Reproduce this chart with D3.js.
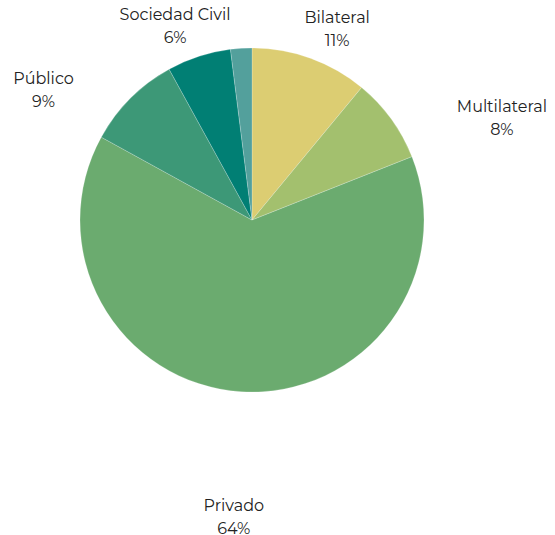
<!DOCTYPE html>
<html>
<head>
<meta charset="utf-8">
<script src="https://cdn.jsdelivr.net/npm/d3@7"></script>
<style>
  html, body { margin: 0; padding: 0; background: #fff; }
  svg { display: block; }
  .lbl { font-family: Montserrat, "DejaVu Sans", sans-serif; font-size: 16px; fill: #222; }
</style>
</head>
<body>
<svg id="chart" width="555" height="535"></svg>
<script>
// slice data, clockwise from 12 o'clock
const categories = ['Bilateral', 'Multilateral', 'Privado', 'Público', 'Sociedad Civil', 'Otro'];
const shares = [11, 8, 64, 9, 6, 2];
const pctLabels = ['11%', '8%', '64%', '9%', '6%', ''];
const colors = ['#dccd72', '#a3c06e', '#6bab6f', '#3d9877', '#017f74', '#53a09c'];

// label nudges from the default outer position (dx, dy)
const labelNudge = [[14, 1], [80, 15], [-5, 81], [-60, 12], [-12, 0], [0, 0]];

const cx = 252, cy = 220, r = 172, labelR = 210;

const svg = d3.select('#chart');
const g = svg.append('g').attr('transform', `translate(${cx},${cy})`);

const pie = d3.pie().sort(null).value(d => d);
const arcs = pie(shares);

const arc = d3.arc().innerRadius(0).outerRadius(r);

g.selectAll('path.slice')
  .data(arcs)
  .enter()
  .append('path')
  .attr('class', 'slice')
  .attr('d', arc)
  .attr('fill', (d, i) => colors[i])
  .attr('stroke', '#ffffff')
  .attr('stroke-opacity', 0.35)
  .attr('stroke-width', 0.6);

// labels
const lbl = g.selectAll('text.lbl')
  .data(arcs.filter((d, i) => pctLabels[i] !== ''))
  .enter()
  .append('text')
  .attr('class', 'lbl')
  .attr('text-anchor', 'middle')
  .attr('transform', d => {
    const a = (d.startAngle + d.endAngle) / 2;
    const n = labelNudge[d.index];
    const x = Math.sin(a) * labelR + n[0];
    const y = -Math.cos(a) * labelR + n[1];
    return `translate(${x},${y})`;
  });

lbl.append('tspan')
  .attr('x', 0)
  .attr('y', 0)
  .text(d => categories[d.index]);

lbl.append('tspan')
  .attr('x', 0)
  .attr('y', 23)
  .text(d => pctLabels[d.index]);
</script>
</body>
</html>
